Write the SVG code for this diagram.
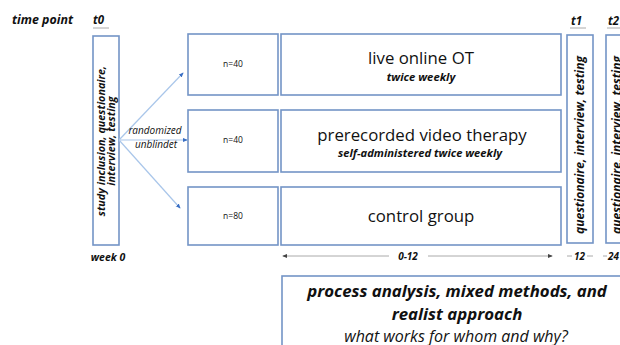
<svg xmlns="http://www.w3.org/2000/svg" width="620" height="345" viewBox="0 0 620 345">
<style>
text{font-family:"Open Sans","Liberation Sans",sans-serif;fill:#111}
.bi{font-weight:bold;font-style:italic}
.it{font-style:italic}
.ttl{font-size:16.8px;font-weight:500}
.box{fill:#fff;stroke:#7394c6;stroke-width:1.6}
.conn{stroke:#a9c6ea;stroke-width:1.2;fill:none}
.tl{stroke:#aaa;stroke-width:1;fill:none}
</style>
<defs>
<marker id="ah" viewBox="0 0 6 6" refX="5" refY="3" markerWidth="5" markerHeight="5" orient="auto" markerUnits="userSpaceOnUse">
<path d="M0,0.5 L6,3 L0,5.5 z" fill="#3a6fc4"/>
</marker>
<marker id="gh" viewBox="0 0 6 6" refX="5" refY="3" markerWidth="5" markerHeight="5" orient="auto-start-reverse" markerUnits="userSpaceOnUse">
<path d="M0,0.5 L6,3 L0,5.5 z" fill="#444"/>
</marker>
</defs>
<rect width="620" height="345" fill="#fff"/>

<g id="header">
<text class="bi" x="12" y="24" font-size="12.4">time point</text>
<text class="bi" x="93" y="24" font-size="11.5">t0</text>
<line x1="93" y1="28" x2="109" y2="28" class="tl"/>
<text class="bi" x="571" y="25" font-size="11.5">t1</text>
<line x1="570" y1="28" x2="586" y2="28" class="tl"/>
<text class="bi" x="608" y="25" font-size="11.5">t2</text>
<line x1="607" y1="28" x2="620" y2="28" class="tl"/>
</g>

<g id="t0">
<rect class="box" x="93" y="36" width="26" height="209"/>
<g transform="translate(106,141) rotate(-90)">
<text class="bi" x="0" y="-1" font-size="10.8" text-anchor="middle">study inclusion, questionaire,</text>
<text class="bi" x="0" y="8.5" font-size="10.8" text-anchor="middle">interview, testing</text>
</g>
<text class="bi" x="108" y="261" font-size="10.5" text-anchor="middle">week 0</text>
</g>

<g id="connectors">
<line class="conn" x1="119" y1="140" x2="183" y2="73" marker-end="url(#ah)"/>
<line class="conn" x1="119" y1="140" x2="187" y2="140" marker-end="url(#ah)"/>
<line class="conn" x1="119" y1="140" x2="180" y2="208" marker-end="url(#ah)"/>
<text class="it" x="155" y="134" font-size="10" text-anchor="middle">randomized</text>
<text class="it" x="156" y="148" font-size="10" text-anchor="middle">unblindet</text>
</g>

<g id="n1">
<rect class="box" x="188" y="34" width="90" height="61"/>
<text x="233" y="67" font-size="8.5" text-anchor="middle">n=40</text>
</g>
<g id="n2">
<rect class="box" x="188" y="110" width="90" height="62"/>
<text x="233" y="143" font-size="8.5" text-anchor="middle">n=40</text>
</g>
<g id="n3">
<rect class="box" x="188" y="187" width="90" height="58"/>
<text x="233" y="219" font-size="8.5" text-anchor="middle">n=80</text>
</g>

<g id="live">
<rect class="box" x="281" y="34" width="280" height="61"/>
<text class="ttl" x="421" y="64" text-anchor="middle">live online OT</text>
<text class="bi" x="421" y="81" font-size="11.3" text-anchor="middle">twice weekly</text>
</g>
<g id="video">
<rect class="box" x="281" y="110" width="280" height="62"/>
<text class="ttl" x="422" y="141" text-anchor="middle">prerecorded video therapy</text>
<text class="bi" x="420" y="157" font-size="11.2" text-anchor="middle">self-administered twice weekly</text>
</g>
<g id="control">
<rect class="box" x="281" y="187" width="280" height="58"/>
<text class="ttl" x="421" y="222" text-anchor="middle">control group</text>
</g>

<g id="t1">
<rect class="box" x="567" y="35" width="26" height="208"/>
<text class="bi" transform="translate(584,145) rotate(-90)" x="0" y="0" font-size="12" text-anchor="middle">questionaire, interview, testing</text>
</g>
<g id="t2">
<rect class="box" x="606" y="35" width="26" height="208"/>
<text class="bi" transform="translate(621,145) rotate(-90)" x="0" y="0" font-size="12" text-anchor="middle">questionaire, interview, testing</text>
</g>

<g id="timeline">
<line class="tl" x1="283" y1="256" x2="389" y2="256" marker-start="url(#gh)"/>
<line class="tl" x1="428" y1="256" x2="552" y2="256" marker-end="url(#gh)"/>
<text class="bi" x="408" y="260" font-size="10" text-anchor="middle">0-12</text>
<line class="tl" x1="567" y1="256" x2="572" y2="256"/>
<text class="bi" x="579.5" y="260" font-size="10" text-anchor="middle">12</text>
<line class="tl" x1="587" y1="256" x2="593" y2="256"/>
<line class="tl" x1="603" y1="256" x2="607" y2="256"/>
<text class="bi" x="608" y="260" font-size="10">24</text>
</g>

<g id="process">
<rect class="box" x="282" y="276" width="360" height="100"/>
<text class="bi" x="457" y="297" font-size="16.8" text-anchor="middle">process analysis, mixed methods, and</text>
<text class="bi" x="457" y="320" font-size="16.8" text-anchor="middle">realist approach</text>
<text class="it" x="456" y="342" font-size="16" text-anchor="middle">what works for whom and why?</text>
</g>
</svg>
